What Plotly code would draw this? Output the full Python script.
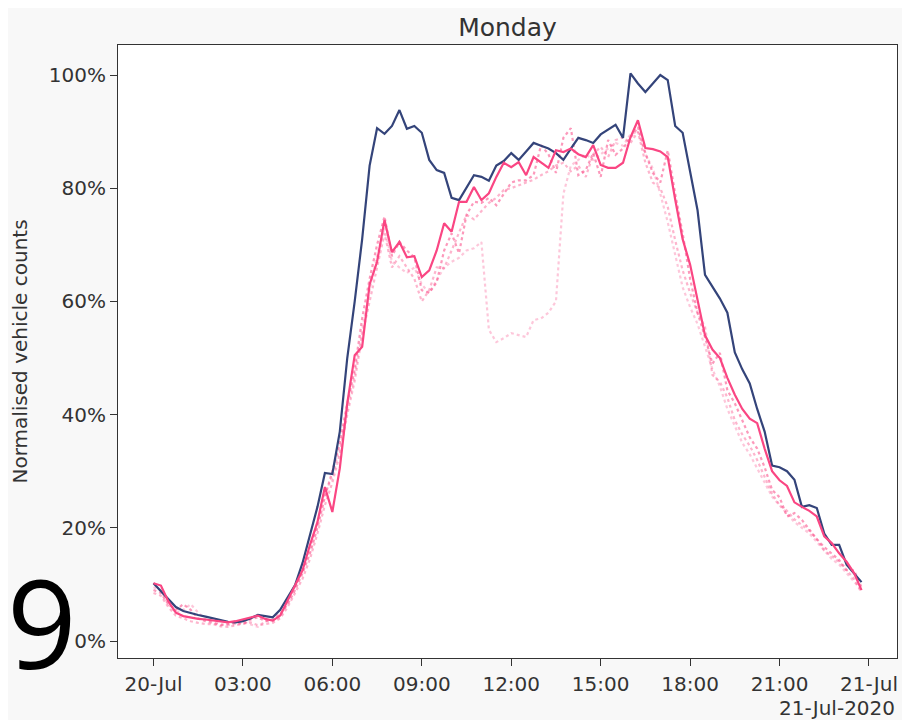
import pandas as pd
import plotly.graph_objects as go

# 15-minute intervals over Monday 20-Jul-2020
times = pd.date_range('2020-07-20 00:00', periods=96, freq='15min')

# navy solid line (%)
navy = [10.2, 8.8, 7.4, 6.0, 5.3, 4.9, 4.6, 4.3,
        4.0, 3.7, 3.4, 3.3, 3.5, 4.0, 4.6, 4.4,
        4.2, 5.5, 7.8, 9.9, 13.8, 18.7, 23.7, 29.7,
        29.5, 37.0, 50.0, 60.0, 71.0, 84.0, 90.6, 89.6,
        91.0, 93.8, 90.5, 91.0, 89.8, 85.0, 83.2, 82.7,
        78.3, 77.9, 80.0, 82.3, 82.0, 81.3, 84.0, 84.8,
        86.2, 85.0, 86.5, 88.0, 87.5, 87.0, 86.2, 85.0,
        87.0, 88.9, 88.5, 88.0, 89.5, 90.3, 91.2, 88.9,
        100.3, 98.5, 97.0, 98.5, 100.0, 99.1, 91.0, 89.8,
        82.7, 76.1, 64.7, 62.5, 60.5, 58.0, 51.0, 48.0,
        45.5, 41.0, 37.0, 31.0, 30.7, 30.0, 28.5, 23.7,
        24.0, 23.5, 19.0, 17.0, 17.0, 13.5, 12.0, 10.4]

# pink solid line (%)
pink = [10.2, 9.8, 7.0, 5.0, 4.4, 4.1, 3.9, 3.8,
        3.6, 3.4, 3.3, 3.5, 3.8, 4.2, 4.5, 3.9,
        3.6, 4.5, 7.2, 9.8, 12.5, 17.0, 21.0, 27.2,
        22.8, 30.5, 42.0, 50.5, 52.0, 63.0, 67.0, 74.4,
        68.7, 70.5, 67.8, 68.0, 64.3, 65.5, 69.0, 73.8,
        72.3, 77.6, 77.6, 80.2, 77.9, 79.1, 82.0, 84.5,
        83.7, 84.6, 82.3, 85.5, 84.5, 83.6, 86.7, 86.4,
        87.0, 86.0, 85.5, 87.6, 84.1, 83.6, 83.6, 84.5,
        89.0, 92.0, 87.1, 86.9, 86.5, 85.5, 78.0, 71.0,
        66.5, 60.0, 54.0, 51.5, 50.0, 46.5, 43.5, 41.0,
        39.3, 38.5, 34.0, 30.0, 28.4, 27.4, 24.5, 23.7,
        23.0, 22.0, 18.5, 17.3, 15.5, 14.0, 12.0, 9.0]

# dotted pink lines (other Mondays)
dot_b = [9.0, 8.5, 6.5, 5.5, 6.5, 5.5, 4.0, 3.5,
         3.2, 2.8, 3.0, 3.2, 3.0, 3.8, 4.2, 3.5,
         3.8, 4.8, 6.5, 9.0, 12.0, 15.5, 20.0, 25.5,
         30.0, 35.0, 42.0, 48.0, 57.0, 64.0, 70.0, 75.0,
         68.0, 70.5, 69.0, 67.8, 62.0, 61.5, 63.4, 69.0,
         72.0, 68.5, 75.3, 77.6, 77.4, 78.3, 77.0, 79.0,
         81.0, 81.4, 81.4, 82.3, 87.6, 86.0, 82.7, 88.9,
         90.6, 82.3, 83.2, 86.2, 82.0, 88.5, 85.9, 87.0,
         88.9, 90.8, 86.2, 82.7, 81.0, 86.7, 79.0, 72.0,
         64.0, 58.0, 53.7, 49.0, 50.9, 44.3, 42.0, 39.0,
         36.0, 34.0, 30.7, 26.7, 25.4, 22.0, 22.6, 21.4,
         19.6, 18.0, 16.6, 15.5, 14.3, 12.5, 12.5, 9.5]

dot_c = [8.5, 8.0, 6.0, 4.5, 4.0, 3.5, 3.2, 3.0,
         3.0, 2.6, 2.5, 2.8, 3.0, 3.3, 2.8, 3.0,
         3.2, 4.0, 6.0, 8.5, 11.0, 14.5, 19.0, 24.0,
         28.0, 33.0, 40.0, 46.0, 54.0, 60.0, 66.0, 72.0,
         66.0, 68.0, 66.0, 64.0, 60.0, 62.0, 66.0, 65.9,
         69.0, 72.0, 75.3, 74.5, 76.0, 77.4, 78.3, 79.7,
         80.0, 80.5, 81.0, 81.5, 82.3, 83.0, 84.0, 84.5,
         83.0, 84.0, 82.0, 86.0, 87.3, 85.5, 88.5, 89.0,
         88.0, 90.0, 84.5, 81.0, 80.0, 76.7, 70.8, 65.5,
         61.5, 58.0, 55.5, 47.0, 45.8, 43.0, 39.0, 36.5,
         34.5, 32.0, 29.0, 26.0, 24.0, 23.0, 21.5, 20.5,
         19.5, 18.0, 16.0, 15.0, 14.0, 12.5, 11.0, 8.5]

dot_a = [9.5, 9.0, 6.5, 5.0, 5.5, 6.5, 5.0, 3.8,
         3.4, 3.0, 2.8, 3.0, 3.4, 3.0, 2.5, 3.5,
         3.5, 4.2, 6.8, 9.5, 12.5, 16.0, 21.0, 26.0,
         29.0, 34.0, 41.0, 47.0, 55.0, 62.0, 68.0, 73.0,
         67.0, 66.0, 65.0, 66.0, 63.0, 61.5, 63.8, 66.0,
         67.0, 67.7, 69.0, 69.4, 70.5, 55.0, 52.8, 53.5,
         54.4, 54.0, 53.7, 56.7, 57.0, 58.0, 60.0, 79.0,
         84.0, 85.0, 86.0, 85.0, 86.0, 87.0, 88.0, 87.5,
         89.5, 90.0, 86.0, 83.5, 79.0, 74.0, 68.5, 62.5,
         59.0, 56.0, 52.0, 48.0, 45.0, 41.0, 38.0, 35.0,
         33.0, 30.5, 28.0, 25.5, 24.0, 22.5, 21.0, 20.0,
         19.0, 17.5, 16.0, 14.5, 13.5, 12.0, 10.5, 9.0]

tick_times = pd.date_range('2020-07-20 00:00', periods=9, freq='3h')
tick_labels = ['20-Jul', '03:00', '06:00', '09:00', '12:00',
               '15:00', '18:00', '21:00', '21-Jul']
y_ticks = [0, 20, 40, 60, 80, 100]

PINK = '#fa4683'
NAVY = '#34447a'

fig = go.Figure()
for vals, col in [(dot_a, 'rgba(250,70,131,0.30)'),
                  (dot_c, 'rgba(250,70,131,0.40)'),
                  (dot_b, 'rgba(250,70,131,0.55)')]:
    fig.add_trace(go.Scatter(x=times, y=vals, mode='lines',
                             line=dict(color=col, width=2.2, dash='dot')))
fig.add_trace(go.Scatter(x=times, y=navy, mode='lines',
                         line=dict(color=NAVY, width=2.2)))
fig.add_trace(go.Scatter(x=times, y=pink, mode='lines',
                         line=dict(color=PINK, width=2.2)))

axis_common = dict(showgrid=False, zeroline=False, showline=True, mirror=True,
                   linecolor='#333', linewidth=1, ticks='outside', ticklen=7,
                   tickcolor='#333', tickfont=dict(family='DejaVu Sans', size=20, color='#333'))

# page body has an 8px margin, so the figure is a bit smaller than the window
fig.update_layout(
    width=902, height=712,
    margin=dict(l=110, r=13, t=37, b=62),
    paper_bgcolor='#f8f8f8', plot_bgcolor='white',
    showlegend=False,
    title=dict(text='Monday', x=0.5, xref='paper', xanchor='center',
               y=0.9733, yanchor='middle',
               font=dict(family='DejaVu Sans', size=25, color='#333')),
    xaxis=dict(range=['2020-07-19 22:48:36', '2020-07-21 00:56:24'],
               tickmode='array', tickvals=tick_times, ticktext=tick_labels,
               ticklabelstandoff=1, **axis_common),
    yaxis=dict(range=[-3.0, 105.3], tickmode='array', tickvals=y_ticks,
               ticktext=[f'{v}%' for v in y_ticks],
               title=dict(text='Normalised vehicle counts', standoff=16,
                          font=dict(family='DejaVu Sans', size=20, color='#333')),
               **axis_common),
)

# offset date label under the right end of the x axis
fig.add_annotation(text='21-Jul-2020', xref='paper', yref='paper', x=1.0, y=0,
                   xanchor='right', yanchor='top', yshift=-36, showarrow=False,
                   font=dict(family='DejaVu Sans', size=20, color='#333'))

# big number in the lower-left corner
fig.add_annotation(text='9', xref='paper', yref='paper', x=-0.097, y=0.059,
                   xanchor='center', yanchor='middle', showarrow=False,
                   font=dict(family='Open Sans', size=122, color='black'))

fig.write_html('out.html')
